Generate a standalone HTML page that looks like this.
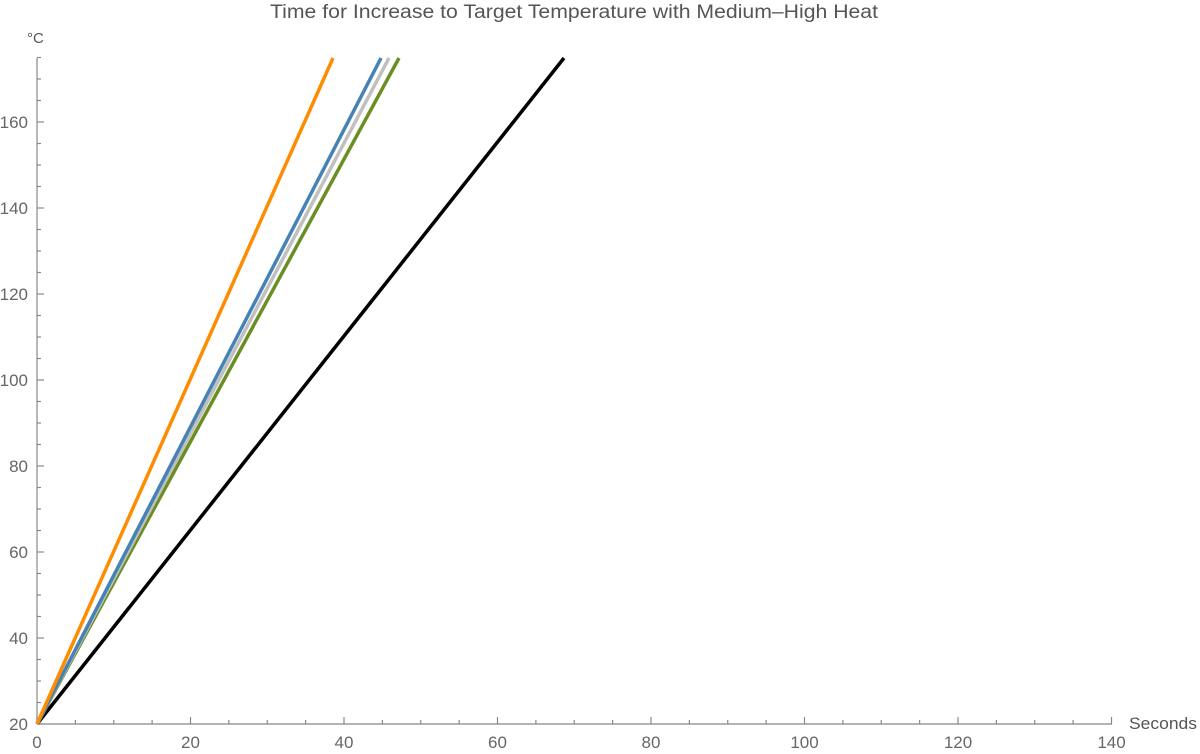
<!DOCTYPE html>
<html><head><meta charset="utf-8"><style>
body{margin:0;background:#fff}
svg{display:block;font-family:"Liberation Sans",sans-serif}
</style></head><body>
<svg width="1200" height="754" viewBox="0 0 1200 754">
<text x="270" y="18" font-size="19" fill="#555" textLength="608" lengthAdjust="spacingAndGlyphs">Time for Increase to Target Temperature with Medium–High Heat</text>
<text x="27" y="43" font-size="15" fill="#555">°C</text>
<text x="1129" y="729" font-size="16.5" fill="#555" textLength="68" lengthAdjust="spacingAndGlyphs">Seconds</text>
<g stroke="#888" stroke-width="1.2" fill="none">
<line x1="37" y1="58" x2="37" y2="724"/>
<line x1="37" y1="724" x2="1112" y2="724"/>
<g id="yt"></g><g id="xt"></g>
</g>
<g id="labels" font-size="17" fill="#666"></g>
<g stroke-width="3.5" fill="none" stroke-linecap="butt">
<line x1="37" y1="724" x2="564" y2="58" stroke="#000"/>
<line x1="37" y1="724" x2="399" y2="58" stroke="#6b8e23"/>
<line x1="37" y1="724" x2="389" y2="58" stroke="#c0c0c0"/>
<line x1="37" y1="724" x2="381" y2="58" stroke="#4682b4"/>
<line x1="37" y1="724" x2="333" y2="58" stroke="#ff8c00"/>
</g>
<script>
var ns="http://www.w3.org/2000/svg",yt=document.getElementById('yt'),xt=document.getElementById('xt'),lb=document.getElementById('labels');
function L(g,a,b,c,d){var l=document.createElementNS(ns,'line');l.setAttribute('x1',a);l.setAttribute('y1',b);l.setAttribute('x2',c);l.setAttribute('y2',d);g.appendChild(l);}
function T(x,y,s,anc){var t=document.createElementNS(ns,'text');t.setAttribute('x',x);t.setAttribute('y',y);t.setAttribute('text-anchor',anc);t.textContent=s;lb.appendChild(t);}
for(var v=20;v<=175;v+=5){var y=724-(v-20)*4.3;var maj=(v%20==0);L(yt,37,y,37+(maj?7:4),y);if(maj)T(28,y+6,v,'end');}
for(var v=0;v<=140;v+=5){var x=37+v*7.675;var maj=(v%20==0);L(xt,x,724,x,724-(maj?7:4));if(maj)T(x,748,v,'middle');}
</script>
</svg>
</body></html>
